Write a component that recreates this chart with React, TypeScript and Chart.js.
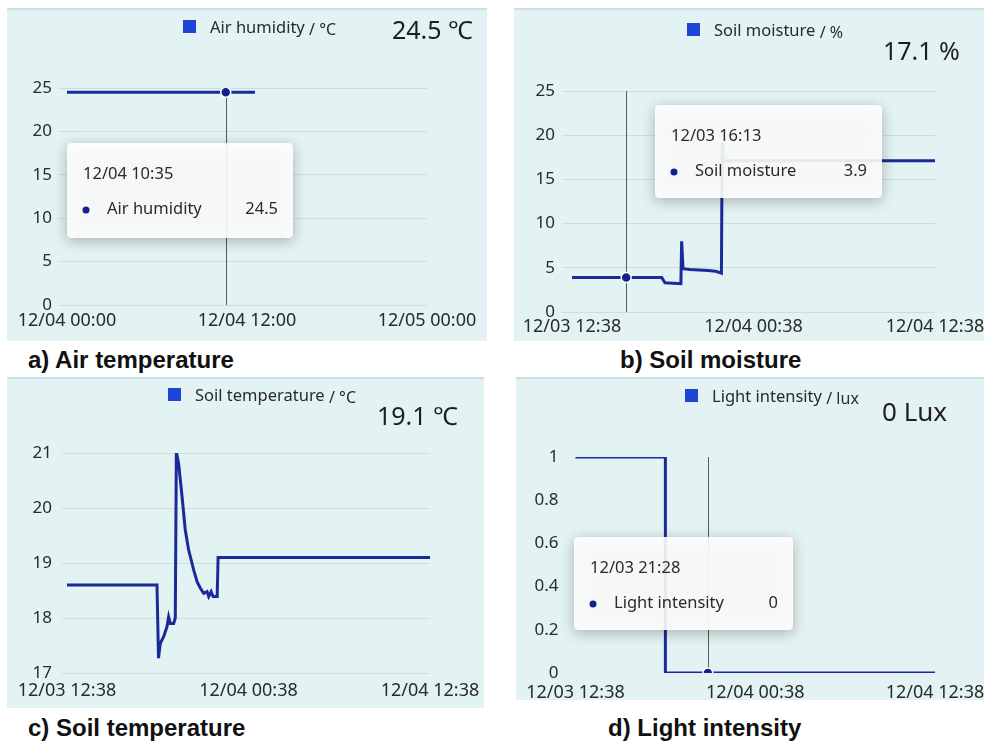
import React, { useEffect, useRef } from "react";
import { Chart, registerables } from "chart.js";

Chart.register(...registerables);

// ---------------- data ----------------
// a) air (shown as "Air humidity" in the legend), start 12/04 00:00, x in hours
const airStart = [12, 4, 0, 0];
const airTickHours = [0, 12, 24];
const airTickLabels = ["12/04 00:00", "12/04 12:00", "12/05 00:00"];
const airHours = [0, 10.5833, 12.53];
const airValues = [24.5, 24.5, 24.5];

// shared time axis for b, c, d: start 12/03 12:38
const dayStart = [12, 3, 12, 38];
const dayTickHours = [0, 12, 24];
const dayTickLabels = ["12/03 12:38", "12/04 00:38", "12/04 12:38"];

// b) soil moisture (%)
const moistureHours = [0, 3.5833, 5.93, 6.15, 7.2, 7.25, 7.34, 7.8, 8.4, 9.0, 9.5, 9.88, 9.93, 9.97, 24];
const moistureValues = [3.9, 3.9, 3.9, 3.3, 3.2, 8.0, 4.9, 4.8, 4.75, 4.7, 4.6, 4.4, 19.2, 17.1, 17.1];

// c) soil temperature (°C)
const soilTempHours = [0, 5.95, 6.05, 6.17, 6.39, 6.61, 6.72, 6.83, 7.05, 7.16, 7.23, 7.38, 7.61, 7.82, 8.04, 8.38, 8.6, 8.82, 9.04, 9.26, 9.37, 9.53, 9.66, 9.93, 9.99, 24];
const soilTempValues = [18.6, 18.6, 17.27, 17.54, 17.66, 17.84, 18.02, 17.9, 17.9, 18.0, 21.02, 20.81, 20.2, 19.6, 19.24, 18.87, 18.66, 18.54, 18.45, 18.48, 18.39, 18.48, 18.39, 18.39, 19.1, 19.1];

// d) light intensity (lux)
const lightHours = [0, 6.0, 6.0, 8.8333, 24];
const lightValues = [1, 1, 0, 0, 0];

// ---------------- style ----------------
const FONT = "'Noto Sans', 'DejaVu Sans', sans-serif";
const LINE_COLOR = "#1a2a98";
const DOT_COLOR = "#142090";
const SWATCH_COLOR = "#1e46d6";
const PANEL_BG = "#e3f2f2";
const GRID_COLOR = "#d2dcdc";
const TEXT = "#2a2a2a";

function fmtTime(start: number[], hours: number) {
  const [mo, d, h, mi] = start;
  const t = Date.UTC(2023, mo - 1, d, h, mi) + Math.round(hours * 60) * 60000;
  const dt = new Date(t);
  const p = (n: number) => String(n).padStart(2, "0");
  return `${p(dt.getUTCMonth() + 1)}/${p(dt.getUTCDate())} ${p(dt.getUTCHours())}:${p(dt.getUTCMinutes())}`;
}

type Box = { x: number; y: number; w: number; h: number };
type Layout = {
  box: Box;
  area: { l: number; r: number; t: number; b: number };
  xMin: number;
  yPad: number;
  xPad: number;
  grid: boolean;
  legend: { x: number; y: number };
  value: { x: number; y: number; size: number };
  caption: { x: number; y: number };
  tip: Box | null;
};

type PanelSpec = {
  caption: string;
  seriesName: string;
  legendUnit: string;
  valueUnit: string;
  start: number[];
  hours: number[];
  values: number[];
  tickHours: number[];
  tickLabels: string[];
  yMin: number;
  yMax: number;
  yStep: number;
  hover: number | null;
  layout: Layout;
};

const panels: PanelSpec[] = [
  {
    caption: "a) Air temperature",
    seriesName: "Air humidity",
    legendUnit: "/ °C",
    valueUnit: "℃",
    start: airStart,
    hours: airHours,
    values: airValues,
    tickHours: airTickHours,
    tickLabels: airTickLabels,
    yMin: 0,
    yMax: 25,
    yStep: 5,
    hover: 1,
    layout: {
      box: { x: 7, y: 8, w: 480, h: 333 },
      area: { l: 58, r: 427, t: 88, b: 305 },
      xMin: -0.6,
      yPad: 6,
      xPad: 5,
      grid: true,
      legend: { x: 183, y: 27 },
      value: { x: 392, y: 30, size: 25 },
      caption: { x: 28, y: 360 },
      tip: { x: 67, y: 143, w: 226, h: 95 },
    },
  },
  {
    caption: "b) Soil moisture",
    seriesName: "Soil moisture",
    legendUnit: "/ %",
    valueUnit: "%",
    start: dayStart,
    hours: moistureHours,
    values: moistureValues,
    tickHours: dayTickHours,
    tickLabels: dayTickLabels,
    yMin: 0,
    yMax: 25,
    yStep: 5,
    hover: 1,
    layout: {
      box: { x: 514, y: 8, w: 470, h: 333 },
      area: { l: 562, r: 935, t: 91, b: 312 },
      xMin: -0.66,
      yPad: 7,
      xPad: 4,
      grid: true,
      legend: { x: 687, y: 30 },
      value: { x: 883, y: 51, size: 25 },
      caption: { x: 620, y: 360 },
      tip: { x: 655, y: 105, w: 227, h: 93 },
    },
  },
  {
    caption: "c) Soil temperature",
    seriesName: "Soil temperature",
    legendUnit: "/ °C",
    valueUnit: "℃",
    start: dayStart,
    hours: soilTempHours,
    values: soilTempValues,
    tickHours: dayTickHours,
    tickLabels: dayTickLabels,
    yMin: 17,
    yMax: 21,
    yStep: 1,
    hover: null,
    layout: {
      box: { x: 7, y: 377, w: 477, h: 331 },
      area: { l: 62, r: 430, t: 453, b: 673 },
      xMin: -0.33,
      yPad: 10,
      xPad: 7,
      grid: true,
      legend: { x: 168, y: 395 },
      value: { x: 377, y: 416, size: 25 },
      caption: { x: 28, y: 728 },
      tip: null,
    },
  },
  {
    caption: "d) Light intensity",
    seriesName: "Light intensity",
    legendUnit: "/ lux",
    valueUnit: "Lux",
    start: dayStart,
    hours: lightHours,
    values: lightValues,
    tickHours: dayTickHours,
    tickLabels: dayTickLabels,
    yMin: 0,
    yMax: 1,
    yStep: 0.2,
    hover: 3,
    layout: {
      box: { x: 516, y: 377, w: 468, h: 323 },
      area: { l: 566, r: 935, t: 457, b: 673 },
      xMin: -0.6,
      yPad: 8,
      xPad: 9,
      grid: false,
      legend: { x: 685, y: 396 },
      value: { x: 882, y: 412, size: 26 },
      caption: { x: 608, y: 728 },
      tip: { x: 574, y: 537, w: 219, h: 93 },
    },
  },
];

function roundRect(ctx: CanvasRenderingContext2D, x: number, y: number, w: number, h: number, r: number) {
  ctx.beginPath();
  ctx.moveTo(x + r, y);
  ctx.lineTo(x + w - r, y);
  ctx.quadraticCurveTo(x + w, y, x + w, y + r);
  ctx.lineTo(x + w, y + h - r);
  ctx.quadraticCurveTo(x + w, y + h, x + w - r, y + h);
  ctx.lineTo(x + r, y + h);
  ctx.quadraticCurveTo(x, y + h, x, y + h - r);
  ctx.lineTo(x, y + r);
  ctx.quadraticCurveTo(x, y, x + r, y);
  ctx.closePath();
}

function Panel({ p }: { p: PanelSpec }) {
  const ref = useRef<HTMLCanvasElement | null>(null);
  const L = p.layout;
  const cw = L.box.w + 20;
  const ch = L.box.h;

  useEffect(() => {
    const hover = p.hover;
    const overlay = {
      id: "hoverOverlay",
      beforeDatasetsDraw(chart: any) {
        if (hover == null) return;
        const el = chart.getDatasetMeta(0).data[hover];
        const { ctx, chartArea } = chart;
        ctx.save();
        ctx.strokeStyle = "#5a5a5a";
        ctx.lineWidth = 1;
        const x = Math.round(el.x) + 0.5;
        ctx.beginPath();
        ctx.moveTo(x, chartArea.top);
        ctx.lineTo(x, chartArea.bottom);
        ctx.stroke();
        ctx.restore();
      },
      afterDraw(chart: any) {
        if (hover == null || !L.tip) return;
        const ctx: CanvasRenderingContext2D = chart.ctx;
        const bx = L.tip.x - L.box.x;
        const by = L.tip.y - L.box.y;
        const w = L.tip.w;
        const h = L.tip.h;
        ctx.save();
        ctx.shadowColor = "rgba(0,0,0,0.3)";
        ctx.shadowBlur = 14;
        ctx.shadowOffsetY = 3;
        ctx.fillStyle = "rgba(255,255,255,0.9)";
        roundRect(ctx, bx, by, w, h, 5);
        ctx.fill();
        ctx.shadowColor = "transparent";
        ctx.shadowBlur = 0;
        ctx.shadowOffsetY = 0;
        ctx.fillStyle = TEXT;
        ctx.font = `16.5px ${FONT}`;
        ctx.textBaseline = "middle";
        ctx.textAlign = "left";
        ctx.fillText(fmtTime(p.start, p.hours[hover]), bx + 16, by + 31);
        ctx.fillText(p.seriesName, bx + 40, by + 66);
        ctx.textAlign = "right";
        ctx.fillText(String(p.values[hover]), bx + w - 15, by + 66);
        ctx.fillStyle = DOT_COLOR;
        ctx.beginPath();
        ctx.arc(bx + 19, by + 67, 3.5, 0, Math.PI * 2);
        ctx.fill();
        ctx.restore();
      },
    };

    const chart = new Chart(ref.current as HTMLCanvasElement, {
      type: "line",
      data: {
        datasets: [
          {
            label: p.seriesName,
            data: p.hours.map((h, i) => ({ x: h, y: p.values[i] })),
            borderColor: LINE_COLOR,
            borderWidth: 3,
            tension: 0,
            fill: false,
            pointRadius: (c: any) => (c.dataIndex === hover ? 5 : 0),
            pointBackgroundColor: DOT_COLOR,
            pointBorderColor: "#ffffff",
            pointBorderWidth: 1.5,
          } as any,
        ],
      },
      options: {
        animation: false,
        responsive: false,
        maintainAspectRatio: false,
        devicePixelRatio: 1,
        events: [],
        layout: {
          padding: {
            left: 0,
            top: L.area.t - L.box.y,
            right: cw - (L.area.r - L.box.x),
            bottom: 0,
          },
        },
        plugins: {
          legend: { display: false },
          tooltip: { enabled: false },
        },
        scales: {
          x: {
            type: "linear",
            min: L.xMin,
            max: p.tickHours[p.tickHours.length - 1],
            grid: { display: false, drawTicks: false },
            border: { display: false },
            afterBuildTicks: (s: any) => {
              s.ticks = p.tickHours.map((v) => ({ value: v }));
            },
            afterFit: (s: any) => {
              s.height = L.box.h - (L.area.b - L.box.y);
            },
            ticks: {
              autoSkip: false,
              maxRotation: 0,
              padding: L.xPad,
              color: TEXT,
              font: { family: FONT, size: 18 },
              callback: (_v: any, i: number) => p.tickLabels[i],
            },
          },
          y: {
            min: p.yMin,
            max: p.yMax,
            grid: { display: L.grid, color: GRID_COLOR, drawTicks: false, lineWidth: 1 },
            border: { display: false },
            afterFit: (s: any) => {
              s.width = L.area.l - L.box.x;
            },
            ticks: {
              stepSize: p.yStep,
              padding: L.yPad,
              color: TEXT,
              font: { family: FONT, size: 17 },
              callback: (v: any) => String(Number(Number(v).toFixed(2))),
            },
          },
        },
      } as any,
      plugins: [overlay],
    });
    return () => chart.destroy();
  }, []);

  const last = p.values[p.values.length - 1];
  return (
    <>
      <div
        style={{
          position: "absolute",
          left: L.box.x,
          top: L.box.y,
          width: L.box.w,
          height: L.box.h,
          background: PANEL_BG,
          borderTop: "2px solid #cde0e0",
          boxSizing: "border-box",
        }}
      />
      <canvas
        ref={ref}
        width={cw}
        height={ch}
        style={{ position: "absolute", left: L.box.x, top: L.box.y, width: cw, height: ch }}
      />
      <div
        style={{
          position: "absolute",
          left: L.legend.x,
          top: L.legend.y - 7,
          width: 13,
          height: 13,
          background: SWATCH_COLOR,
        }}
      />
      <div
        style={{
          position: "absolute",
          left: L.legend.x + 27,
          top: L.legend.y - 9,
          fontFamily: FONT,
          fontSize: 16.5,
          lineHeight: "17px",
          color: TEXT,
          whiteSpace: "nowrap",
        }}
      >
        {p.seriesName} <span style={{ fontSize: 16, position: "relative", top: 2 }}>{p.legendUnit}</span>
      </div>
      <div
        style={{
          position: "absolute",
          left: L.value.x,
          top: L.value.y - L.value.size / 2 - 1,
          fontFamily: FONT,
          fontSize: L.value.size,
          lineHeight: `${L.value.size}px`,
          color: "#1e1e1e",
          whiteSpace: "nowrap",
        }}
      >
        {`${last} ${p.valueUnit}`}
      </div>
      <div
        style={{
          position: "absolute",
          left: L.caption.x,
          top: L.caption.y - 12,
          fontFamily: "'Liberation Sans', Arial, sans-serif",
          fontWeight: "bold",
          fontSize: 24,
          lineHeight: "24px",
          color: "#111",
          whiteSpace: "nowrap",
        }}
      >
        {p.caption}
      </div>
    </>
  );
}

export default function App() {
  return (
    <div
      style={{
        position: "absolute",
        left: 0,
        top: 0,
        width: 984,
        height: 744,
        overflow: "hidden",
        background: "#ffffff",
      }}
    >
      {panels.map((p) => (
        <Panel key={p.caption} p={p} />
      ))}
    </div>
  );
}
